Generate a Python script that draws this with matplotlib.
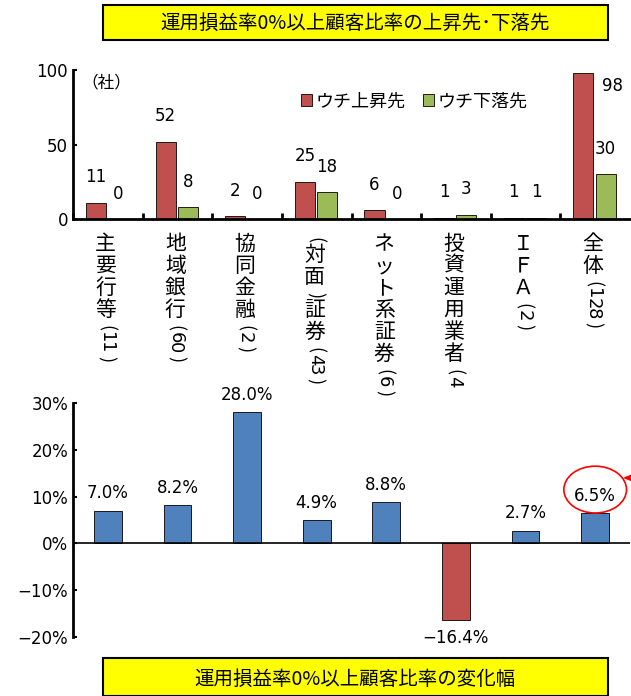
import matplotlib
matplotlib.use("Agg")
import matplotlib.pyplot as plt
from matplotlib.patches import Ellipse, Polygon, Rectangle
import matplotlib.transforms as mtrans

plt.rcParams['font.family'] = ['Noto Sans CJK JP', 'DejaVu Sans']

categories = ['主要行等（11）', '地域銀行（60）', '協同金融（2）', '（対面）証券（43）',
              'ネット系証券（6）', '投資運用業者（4', 'ＩＦＡ（2）', '全体（128）']
up = [11, 52, 2, 25, 6, 1, 1, 98]
down = [0, 8, 0, 18, 0, 3, 1, 30]
change = [7.0, 8.2, 28.0, 4.9, 8.8, -16.4, 2.7, 6.5]
top_title = '運用損益率0%以上顧客比率の上昇先･下落先'
bottom_title = '運用損益率0%以上顧客比率の変化幅'

RED = '#C0504D'; GREEN = '#9BBB59'; BLUE = '#4F81BD'
W, H = 631, 696
fig = plt.figure(figsize=(W/100, H/100), dpi=100)

def fx(px): return px / W
def fy(py): return 1 - py / H

# top chart
ax1 = fig.add_axes([fx(73), fy(219), fx(630-73), fy(70)-fy(219)])
x = list(range(len(categories)))
bw = 0.29
ax1.bar([i - 0.17 for i in x], up, bw, color=RED, edgecolor='black', linewidth=0.6, label='ウチ上昇先')
ax1.bar([i + 0.15 for i in x], down, bw, color=GREEN, edgecolor='black', linewidth=0.6, label='ウチ下落先')
for i in x:
    if i == 7:
        ax1.text(i + 0.1, up[i] - 3, str(up[i]), ha='left', va='top', fontsize=12, family='DejaVu Sans')
    else:
        ax1.text(i - 0.17, up[i] + 11, str(up[i]), ha='center', va='bottom', fontsize=12, family='DejaVu Sans')
    ax1.text(i + 0.15, down[i] + 11, str(down[i]), ha='center', va='bottom', fontsize=12, family='DejaVu Sans')
ax1.set_xlim(-0.5, 7.5)
ax1.set_ylim(0, 100)
ax1.set_yticks([0, 50, 100])
ax1.tick_params(axis='y', labelsize=12, direction='in', length=3, width=1.5)
for l in ax1.get_yticklabels(): l.set_family('DejaVu Sans')
ax1.set_xticks([i + 0.5 for i in x[:-1]] + [-0.5])
ax1.set_xticklabels([])
ax1.tick_params(axis='x', direction='in', length=4, width=2)
for s in ['top', 'right']: ax1.spines[s].set_visible(False)
ax1.spines['left'].set_linewidth(2); ax1.spines['bottom'].set_linewidth(2)
ax1.text(0.015, 0.97, '（社）', transform=ax1.transAxes, fontsize=12, va='top')
ax1.legend(loc='upper left', bbox_to_anchor=(0.38, 0.96), ncol=2, frameon=False, fontsize=13,
           handlelength=0.6, handleheight=0.6, handletextpad=0.2, columnspacing=1.0)

# vertical category labels
tr = mtrans.blended_transform_factory(ax1.transData, fig.transFigure)
for i, lab in enumerate(categories):
    py = 234
    xc = i - 0.03
    for ch in lab:
        if ch in '（）':
            c = '(' if ch == '（' else ')'
            fig.text(xc, fy(py + 6), c, transform=tr, rotation=-90, ha='center', va='center', fontsize=13)
            py += 11
        elif ch.isdigit():
            fig.text(xc, fy(py + 5), ch, transform=tr, rotation=-90, ha='center', va='center', fontsize=13, family='DejaVu Sans')
            py += 10
        else:
            fig.text(xc, fy(py + 10), ch, transform=tr, ha='center', va='center', fontsize=15)
            py += 22

# bottom chart
ax2 = fig.add_axes([fx(73), fy(637), fx(630-73), fy(403)-fy(637)])
cols = [RED if v < 0 else BLUE for v in change]
ax2.bar(x, change, 0.4, color=cols, edgecolor='black', linewidth=0.6)
for i, v in enumerate(change):
    ax2.text(i, v + 1.8 if v >= 0 else v - 1.8, f'{v:.1f}%'.replace('-', '−'), ha='center',
             va='bottom' if v >= 0 else 'top', fontsize=12, family='DejaVu Sans')
ax2.set_xlim(-0.5, 7.5)
ax2.set_ylim(-20, 30)
ax2.set_yticks([-20, -10, 0, 10, 20, 30])
ax2.set_yticklabels(['−20%', '−10%', '0%', '10%', '20%', '30%'], family='DejaVu Sans', fontsize=12)
ax2.tick_params(axis='y', direction='in', length=3, width=1.5)
ax2.set_xticks([])
for s in ['top', 'right', 'bottom']: ax2.spines[s].set_visible(False)
ax2.spines['left'].set_linewidth(2)
ax2.axhline(0, color='black', linewidth=1.2)
ax2.add_patch(Ellipse((7.0, 11.5), 0.9, 10, fill=False, edgecolor='red', linewidth=1.2, clip_on=False))
ax2.add_patch(Polygon([(7.42, 14.0), (7.6, 15.0), (7.6, 13.0)], closed=True, color='red', clip_on=False))
ax2.plot([7.6, 7.75], [14.0, 14.0], color='red', linewidth=1, clip_on=False)

# title boxes
fig.add_artist(Rectangle((fx(103), fy(40)), fx(608-103), fy(5)-fy(40), transform=fig.transFigure,
                         facecolor='#FFFF00', edgecolor='black', linewidth=1.5))
fig.text(fx(355), fy(23), top_title, ha='center', va='center', fontsize=14)
fig.add_artist(Rectangle((fx(103), fy(696)), fx(608-103), fy(658)-fy(696), transform=fig.transFigure,
                         facecolor='#FFFF00', edgecolor='black', linewidth=1.5))
fig.text(fx(355), fy(679), bottom_title, ha='center', va='center', fontsize=14)

fig.savefig('out.png', dpi=100)
